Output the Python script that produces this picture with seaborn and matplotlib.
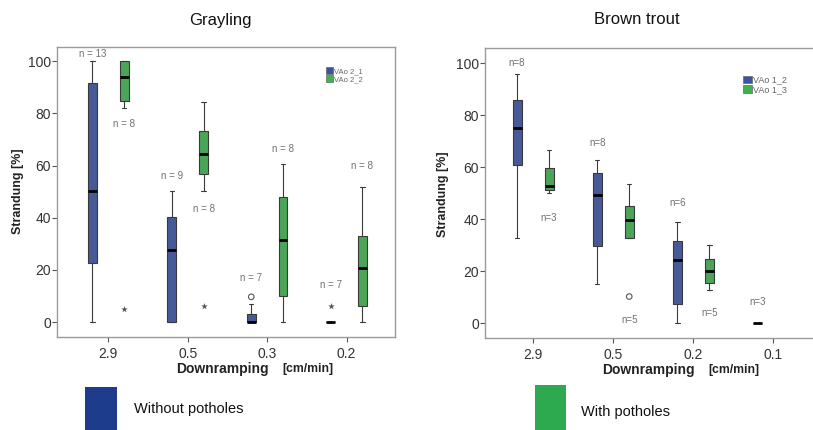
import numpy as np
import pandas as pd
import matplotlib
matplotlib.use("Agg")
import matplotlib.pyplot as plt
import seaborn as sns
from matplotlib.patches import Patch, Rectangle

# ---------------- data ----------------
groups = ["Without potholes", "With potholes"]

# Grayling: box summaries [lower whisker, Q1, median, Q3, upper whisker]
grayling_speeds = ["2.9", "0.5", "0.3", "0.2"]
grayling_without = [[0, 22.5, 50.2, 91.7, 100],
                    [0, 0, 27.6, 40.1, 50.2],
                    [0, 0, 0, 3.3, 6.9],
                    [0, 0, 0, 0, 0]]
grayling_with = [[82.2, 84.7, 94.0, 100, 100],
                 [50.2, 56.8, 64.4, 73.4, 84.4],
                 [0, 10.1, 31.3, 48.1, 60.7],
                 [0, 6.1, 20.6, 33.1, 51.7]]
grayling_n_without = [13, 9, 7, 7]
grayling_n_with = [8, 8, 8, 8]
grayling_out_speed = ["2.9", "0.5", "0.3", "0.2"]
grayling_out_group = ["With potholes", "With potholes", "Without potholes", "Without potholes"]
grayling_out_value = [4.9, 6.3, 9.7, 6.3]
grayling_out_kind = ["extreme", "extreme", "outlier", "extreme"]

# Brown trout
trout_speeds = ["2.9", "0.5", "0.2", "0.1"]
trout_without = [[32.9, 61.0, 75.1, 86.0, 95.8],
                 [15.3, 29.9, 49.2, 57.9, 62.9],
                 [0, 7.6, 24.5, 31.8, 38.8],
                 [0, 0, 0, 0, 0]]
trout_with = [[50.0, 51.2, 52.9, 59.6, 66.5],
              [32.9, 32.9, 39.7, 45.3, 53.6],
              [12.8, 15.5, 20.0, 24.7, 30.1],
              None]
trout_n_without = [8, 8, 6, 3]
trout_n_with = [3, 5, 5, None]
trout_out_speed = ["0.5"]
trout_out_group = ["With potholes"]
trout_out_value = [10.3]
trout_out_kind = ["outlier"]

legend_grayling = ["VAo 2_1", "VAo 2_2"]
legend_trout = ["VAo 1_2", "VAo 1_3"]

# ---------------- layout (label heights in data units) ----------------
grayling_nlab_y_without = [102.8, 56.0, 16.8, 14.2]
grayling_nlab_y_with = [75.8, 43.3, 66.4, 59.8]
trout_nlab_y_without = [100.3, 69.5, 46.3, 8.3]
trout_nlab_y_with = [40.6, 1.3, 4.1, None]

W, H = 813, 430
BLUE = "#3A53A4"
GREEN = "#3CB44B"
BLUE_DARK = "#1E3C8C"
GREEN_DARK = "#2DAA50"
pal = {groups[0]: BLUE, groups[1]: GREEN}


def long_df(speeds, without, with_):
    rows = []
    for s, w0, w1 in zip(speeds, without, with_):
        for g, vals in ((groups[0], w0), (groups[1], w1)):
            if vals is None:
                continue
            for v in vals:
                rows.append({"speed": s, "group": g, "value": v})
    return pd.DataFrame(rows)


def out_df(speeds, grp, vals, kind):
    return pd.DataFrame({"speed": speeds, "group": grp, "value": vals, "kind": kind})


sns.set_style("white")
plt.rcParams["font.family"] = ["Liberation Sans", "DejaVu Sans"]

fig = plt.figure(figsize=(W / 100, H / 100), dpi=100)


def px_axes(x0, y0, x1, y1):
    return fig.add_axes([x0 / W, 1 - y1 / H, (x1 - x0) / W, (y1 - y0) / H])


def draw_panel(ax, speeds, bdf, odf, n_without, n_with, ny_without, ny_with,
               fmt, xlim, ylim, leg_labels, leg_anchor, leg_fs):
    sns.boxplot(data=bdf, x="speed", y="value", hue="group", order=speeds,
                hue_order=groups, palette=pal, whis=(0, 100), width=0.8,
                gap=0.72, showfliers=False, linewidth=0.8, linecolor="#3a3a3a",
                medianprops=dict(color="black", linewidth=2.0),
                legend=False, ax=ax)
    for kind, marker, size in (("extreme", "*", 5), ("outlier", "o", 4)):
        sub = odf[odf["kind"] == kind]
        if len(sub) == 0:
            continue
        ncol = len(ax.collections)
        sns.stripplot(data=sub, x="speed", y="value", hue="group", order=speeds,
                      hue_order=groups, dodge=True, jitter=False, marker=marker,
                      size=size, palette={g: "#555555" for g in groups},
                      legend=False, ax=ax)
        if kind == "outlier":
            for c in ax.collections[ncol:]:
                c.set_facecolor("none")
                c.set_edgecolor("#555555")
                c.set_linewidth(0.8)
    # n labels
    for i, s in enumerate(speeds):
        for off, nlist, ylist in ((-0.2, n_without, ny_without), (0.2, n_with, ny_with)):
            if nlist[i] is None:
                continue
            ax.text(i + off, ylist[i], fmt.format(nlist[i]), ha="center",
                    va="center", fontsize=7, color="#707070")
    ax.set_xlim(*xlim)
    ax.set_ylim(*ylim)
    ax.set_yticks([0, 20, 40, 60, 80, 100])
    ax.set_xlabel("")
    ax.set_ylabel("")
    ax.tick_params(axis="both", which="major", direction="out", length=3.5,
                   width=0.8, color="#555555", labelsize=10, labelcolor="#333333",
                   left=True, bottom=True)
    ax.tick_params(axis="y", pad=1)
    ax.tick_params(axis="x", pad=4)
    for sp in ax.spines.values():
        sp.set_color("#9a9a9a")
        sp.set_linewidth(1.0)
    handles = [Patch(facecolor=BLUE, edgecolor="#666666", linewidth=0.5, label=leg_labels[0]),
               Patch(facecolor=GREEN, edgecolor="#666666", linewidth=0.5, label=leg_labels[1])]
    ax.legend(handles=handles, loc="upper left", bbox_to_anchor=leg_anchor,
              frameon=False, fontsize=leg_fs, handlelength=0.9, handleheight=0.9,
              handletextpad=0.15, labelspacing=0.05, borderpad=0,
              borderaxespad=0, labelcolor="#666666")


# Grayling panel
ax1 = px_axes(57, 47, 395, 337)
draw_panel(ax1, grayling_speeds,
           long_df(grayling_speeds, grayling_without, grayling_with),
           out_df(grayling_out_speed, grayling_out_group, grayling_out_value, grayling_out_kind),
           grayling_n_without, grayling_n_with, grayling_nlab_y_without, grayling_nlab_y_with,
           "n = {}", (-0.646, 3.61), (-5.7, 105.4), legend_grayling, (0.797, 0.93), 5.5)

# Brown trout panel (right border runs off the image)
ax2 = px_axes(485, 48, 840, 338)
draw_panel(ax2, trout_speeds,
           long_df(trout_speeds, trout_without, trout_with),
           out_df(trout_out_speed, trout_out_group, trout_out_value, trout_out_kind),
           trout_n_without, trout_n_with, trout_nlab_y_without, trout_nlab_y_with,
           "n={}", (-0.60, 3.83), (-5.65, 105.9), legend_trout, (0.728, 0.905), 6.5)
ax2.spines["right"].set_visible(False)


def ftxt(x, y, s, **kw):
    fig.text(x / W, 1 - y / H, s, **kw)


# titles
ftxt(220, 20, "Grayling", ha="center", va="center", fontsize=12, color="#111111")
ftxt(637, 20, "Brown trout", ha="center", va="center", fontsize=12, color="#111111")

# axis labels
for yc, xc in ((191, 18), (194, 443)):
    ftxt(xc, yc, "Strandung [%]", rotation=90, ha="center", va="center",
         fontsize=9, fontweight="bold", color="#222222")
for xd, xc, yy in ((222.5, 307.5, 369), (648, 734, 370)):
    ftxt(xd, yy, "Downramping", ha="center", va="center", fontsize=10,
         fontweight="bold", color="#222222")
    ftxt(xc, yy, "[cm/min]", ha="center", va="center", fontsize=8.8,
         fontweight="bold", color="#222222")

# bottom legend
fig.patches.append(Rectangle((85 / W, 0), 32 / W, (H - 387) / H,
                             transform=fig.transFigure, facecolor=BLUE_DARK, edgecolor="none"))
fig.patches.append(Rectangle((535 / W, 0), 31 / W, (H - 385) / H,
                             transform=fig.transFigure, facecolor=GREEN_DARK, edgecolor="none"))
ftxt(134, 409, "Without potholes", ha="left", va="center", fontsize=10.5, color="#111111")
ftxt(581, 412, "With potholes", ha="left", va="center", fontsize=10.5, color="#111111")

fig.savefig("out.png", dpi=100, facecolor="white")
